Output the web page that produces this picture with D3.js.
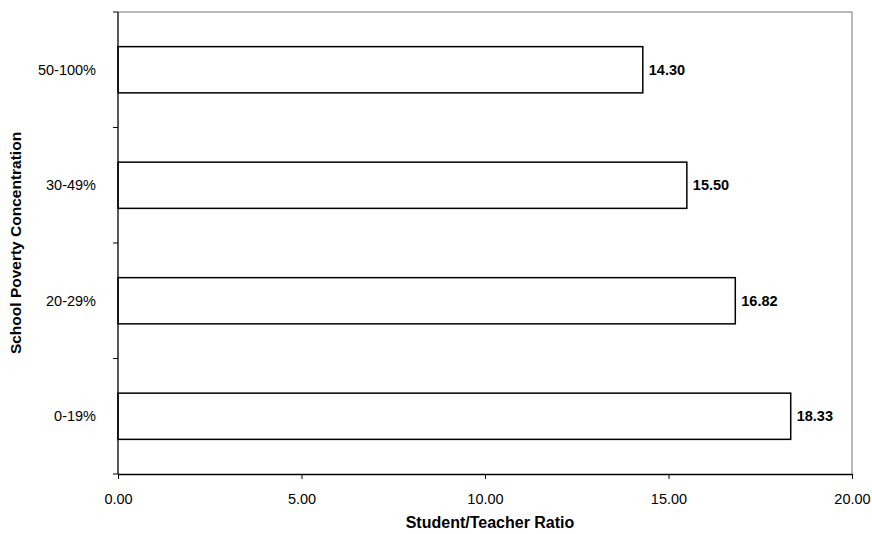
<!DOCTYPE html>
<html>
<head>
<meta charset="utf-8">
<script src="https://cdn.jsdelivr.net/npm/d3@7"></script>
<style>
  body { margin: 0; background: #fff; }
  text { font-family: "Liberation Sans", Arial, sans-serif; fill: #000; }
</style>
</head>
<body>
<svg id="chart" width="872" height="534"></svg>
<script>
const categories = ["50-100%", "30-49%", "20-29%", "0-19%"];
const values = [14.30, 15.50, 16.82, 18.33];
const xTicks = [0, 5, 10, 15, 20];
const xTitle = "Student/Teacher Ratio";
const yTitle = "School Poverty Concentration";

const svg = d3.select("#chart");
const L = 118, R = 852, T = 12, B = 474;

const x = d3.scaleLinear().domain([0, 20]).range([L, R]);
const y = d3.scaleBand().domain(categories).range([T, B]).paddingInner(0.6).paddingOuter(0.3);
const yEdges = d3.scaleLinear().domain([0, categories.length]).range([T, B]);

// frame (top/right)
svg.append("path")
  .attr("d", `M${L},${T}H${R}V${B}`)
  .attr("fill", "none").attr("stroke", "#777").attr("stroke-width", 1);

// bars
svg.selectAll("rect.bar").data(values).enter().append("rect")
  .attr("class", "bar")
  .attr("x", x(0))
  .attr("y", (d, i) => y(categories[i]))
  .attr("width", d => x(d) - x(0))
  .attr("height", y.bandwidth())
  .attr("fill", "#fff").attr("stroke", "#000").attr("stroke-width", 1.5);

// value labels
svg.selectAll("text.val").data(values).enter().append("text")
  .attr("class", "val")
  .attr("x", d => x(d) + 6)
  .attr("y", (d, i) => y(categories[i]) + y.bandwidth() / 2)
  .attr("dy", "0.35em")
  .style("font-size", "14.5px").style("font-weight", "bold")
  .text(d => d.toFixed(2));

// x axis
const xAxis = svg.append("g").attr("transform", `translate(0,${B})`)
  .call(d3.axisBottom(x).tickValues(xTicks).tickFormat(d => d.toFixed(2)).tickSize(5).tickSizeOuter(0));
xAxis.select(".domain").attr("stroke", "#000").attr("stroke-width", 1.3);
xAxis.selectAll(".tick line").attr("stroke", "#000");
xAxis.selectAll(".tick text").style("font-size", "14.5px").attr("dy", "1.5em")
  .style("font-family", '"Liberation Sans", Arial, sans-serif');

// y axis line and ticks at band edges
svg.append("line").attr("x1", L).attr("x2", L).attr("y1", T).attr("y2", B)
  .attr("stroke", "#000").attr("stroke-width", 1.3);
svg.selectAll("line.ytick").data(d3.range(categories.length + 1)).enter().append("line")
  .attr("class", "ytick")
  .attr("x1", L - 5).attr("x2", L)
  .attr("y1", d => yEdges(d)).attr("y2", d => yEdges(d))
  .attr("stroke", "#000");

// category labels
svg.selectAll("text.cat").data(categories).enter().append("text")
  .attr("class", "cat")
  .attr("x", 96)
  .attr("y", d => y(d) + y.bandwidth() / 2)
  .attr("dy", "0.35em")
  .attr("text-anchor", "end")
  .style("font-size", "14.5px")
  .text(d => d);

// titles
svg.append("text")
  .attr("x", 490).attr("y", 528)
  .attr("text-anchor", "middle")
  .style("font-size", "16px").style("font-weight", "bold")
  .text(xTitle);

svg.append("text")
  .attr("transform", `translate(21,${(T + B) / 2}) rotate(-90)`)
  .attr("text-anchor", "middle")
  .style("font-size", "15.5px").style("font-weight", "bold")
  .text(yTitle);
</script>
</body>
</html>
